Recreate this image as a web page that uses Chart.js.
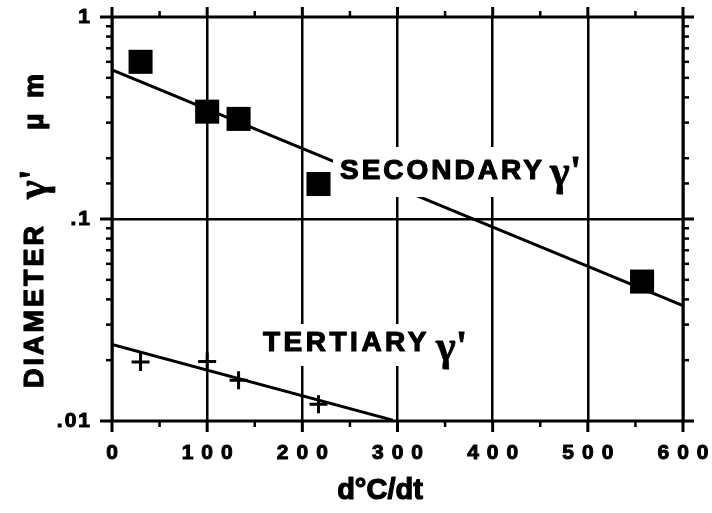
<!DOCTYPE html>
<html><head><meta charset="utf-8">
<script src="https://cdn.jsdelivr.net/npm/chart.js@4.4.1/dist/chart.umd.min.js"></script>
<style>html,body{margin:0;padding:0;background:#fff}#wrap{width:712px;height:513px;position:relative}</style>
</head><body><div id="wrap"><canvas id="c"></canvas></div>
<script>
// ---- data ----
const xTickValues = [0, 100, 200, 300, 400, 500, 600];
const yDecadeLabels = {1: '1', 0.1: '.1', 0.01: '.01'};
const secondaryX = [30, 100, 133, 217, 557];
const secondaryY = [0.600, 0.340, 0.313, 0.149, 0.049];
const tertiaryX = [30, 100, 133, 217];
const tertiaryY = [0.0196, 0.0197, 0.0159, 0.0121];
const secondaryFitX = [0, 600];
const secondaryFitY = [0.548, 0.0373];
const tertiaryFitX = [0, 295];
const tertiaryFitY = [0.0239, 0.0101];
const xTitle = 'd°C/dt';
const yTitleWord = 'DIAMETER';
const yTitleGamma = "γ'";
const yTitleUnit = 'μ m';
const seriesNames = ['SECONDARY', 'TERTIARY'];
const gammaPrime = "γ'";

const SANS = '"Liberation Sans", Arial, Helvetica, sans-serif';
const SERIF = '"Liberation Serif", "DejaVu Serif", serif';

function pts(xs, ys) { return xs.map((x, i) => ({x: x, y: ys[i]})); }
function isDecade(v) { const l = Math.log10(v); return Math.abs(l - Math.round(l)) < 1e-9; }
function decadeLabel(v) {
  if (!isDecade(v)) return '';
  const e = Math.round(Math.log10(v));
  return yDecadeLabels[Math.pow(10, e)] || '';
}

const annot = {
  id: 'annot',
  beforeDraw(chart) { chart.ctx.letterSpacing = '8px'; },
  beforeDatasetsDraw(chart) { chart.ctx.letterSpacing = '2px'; },
  afterDraw(chart) {
    const ctx = chart.ctx, ca = chart.chartArea, xs = chart.scales.x, ys = chart.scales.y;
    ctx.save();
    ctx.letterSpacing = '0px';
    ctx.strokeStyle = '#000'; ctx.fillStyle = '#000'; ctx.lineCap = 'butt';
    const line = (a, b, c, d) => { ctx.beginPath(); ctx.moveTo(a, b); ctx.lineTo(c, d); ctx.stroke(); };
    ys.ticks.forEach(t => {
      const py = ys.getPixelForValue(t.value);
      const major = isDecade(t.value);
      ctx.lineWidth = major ? 3 : 2.5;
      line(ca.left - (major ? 12 : 6), py, ca.left, py);
      line(ca.right, py, ca.right + (major ? 11 : 6), py);
    });
    const xt = xs.ticks;
    xt.forEach((t, i) => {
      const px = xs.getPixelForValue(t.value);
      ctx.lineWidth = 3;
      line(px, ca.bottom, px, ca.bottom + 11);
      line(px, ca.top - 10, px, ca.top);
      if (i < xt.length - 1) {
        const mx = xs.getPixelForValue((t.value + xt[i + 1].value) / 2);
        ctx.lineWidth = 2.5;
        line(mx, ca.bottom, mx, ca.bottom + 6);
        line(mx, ca.top - 6, mx, ca.top);
      }
    });
    ctx.lineWidth = 3;
    ctx.strokeRect(ca.left, ca.top, ca.right - ca.left, ca.bottom - ca.top);

    // heavy text: fill plus thin outline
    const heavy = (txt, x, y, w) => { ctx.lineWidth = w; ctx.lineJoin = 'round'; ctx.strokeText(txt, x, y); ctx.fillText(txt, x, y); };

    const drawLabel = (name, box, tx, ty, gx, gy, ls) => {
      ctx.fillStyle = '#fff';
      ctx.fillRect(box[0], box[1], box[2] - box[0], box[3] - box[1]);
      ctx.fillStyle = '#000';
      ctx.textAlign = 'left'; ctx.textBaseline = 'alphabetic';
      ctx.font = 'bold 28px ' + SANS;
      ctx.letterSpacing = ls + 'px';
      heavy(name, tx, ty, 1.2);
      ctx.letterSpacing = '0px';
      ctx.font = 'bold 42px ' + SERIF;
      heavy(gammaPrime, gx, gy, 0.8);
    };
    drawLabel(seriesNames[0], [333, 147, 585, 197], 340, 179, 550, 185, 3);
    drawLabel(seriesNames[1], [258, 324, 467, 366], 263, 351, 436, 360, 3.5);

    ctx.fillStyle = '#000';
    ctx.font = 'bold 29px ' + SANS;
    ctx.textAlign = 'center'; ctx.textBaseline = 'alphabetic';
    heavy(xTitle, 380, 499, 1.2);

    ctx.save();
    ctx.translate(43, 0);
    ctx.rotate(-Math.PI / 2);
    ctx.textAlign = 'left';
    ctx.font = 'bold 27px ' + SANS;
    ctx.letterSpacing = '3px';
    heavy(yTitleWord, -388, 0, 1.2);
    ctx.letterSpacing = '0px';
    ctx.font = 'bold 40px ' + SERIF;
    ctx.textAlign = 'center';
    heavy(yTitleGamma, -184, 3, 0.8);
    ctx.font = 'bold 27px ' + SANS;
    ctx.letterSpacing = '4px';
    heavy(yTitleUnit, -100, 0, 1.2);
    ctx.restore();
    ctx.restore();
  }
};

new Chart(document.getElementById('c'), {
  type: 'scatter',
  data: {
    datasets: [
      {data: pts(secondaryFitX, secondaryFitY), showLine: true, borderColor: '#000', borderWidth: 3, pointRadius: 0},
      {data: pts(tertiaryFitX, tertiaryFitY), showLine: true, borderColor: '#000', borderWidth: 3, pointRadius: 0},
      {data: pts(secondaryX, secondaryY), pointStyle: 'rect', pointRadius: 17, backgroundColor: '#000', borderWidth: 0},
      {data: pts(tertiaryX, tertiaryY), pointStyle: 'cross', pointRadius: 9, borderColor: '#000', borderWidth: 3}
    ]
  },
  options: {
    responsive: true, maintainAspectRatio: false, animation: false,
    layout: {padding: {top: 15, right: 29, left: 0, bottom: 0}},
    plugins: {legend: {display: false}, tooltip: {enabled: false}},
    scales: {
      x: {
        type: 'linear', min: xTickValues[0], max: xTickValues[xTickValues.length - 1],
        afterBuildTicks: s => { s.ticks = xTickValues.map(v => ({value: v})); },
        afterFit: s => { s.height = 92; s.paddingLeft = 0; s.paddingRight = 0; s.paddingTop = 0; s.paddingBottom = 0; },
        border: {display: false},
        grid: {drawTicks: false, color: '#000', lineWidth: 2.5},
        ticks: {autoSkip: false, maxRotation: 0, padding: 20, labelOffset: 4, color: '#000',
                textStrokeColor: '#000', textStrokeWidth: 1,
                font: {family: SANS, size: 21, weight: 'bold'}, callback: v => String(v)}
      },
      y: {
        type: 'logarithmic', min: 0.01, max: 1,
        afterFit: s => { s.width = 112; s.paddingTop = 0; s.paddingBottom = 0; s.paddingLeft = 0; s.paddingRight = 0; },
        border: {display: false},
        grid: {drawTicks: false, lineWidth: 2.5,
               color: c => (c.tick && Math.abs(c.tick.value - 0.1) < 1e-9) ? '#000' : 'rgba(0,0,0,0)'},
        ticks: {z: 1, autoSkip: false, padding: 20, color: '#000',
                textStrokeColor: '#000', textStrokeWidth: 1,
                font: {family: SANS, size: 21, weight: 'bold'}, callback: v => decadeLabel(v)}
      }
    }
  },
  plugins: [annot]
});
</script>
</body></html>
